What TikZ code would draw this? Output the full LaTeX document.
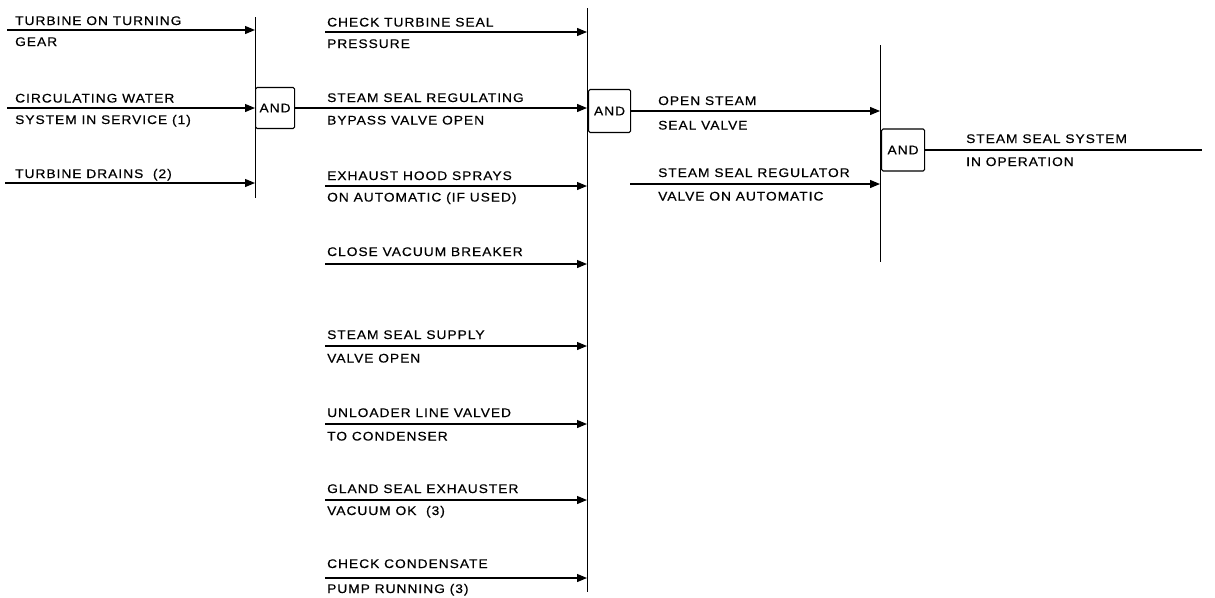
\documentclass[tikz,border=0pt]{standalone}
\usepackage{fontspec}
\setmainfont{Liberation Sans}[LetterSpace=8,FakeStretch=1.1,FakeBold=0.5]
\usetikzlibrary{arrows.meta}
\begin{document}
\begin{tikzpicture}[x=1pt,y=-1pt,
  lbl/.style={inner sep=0pt,anchor=base west,font=\fontsize{12.5}{14}\selectfont},
  bar/.style={line width=1pt},
  feed/.style={line width=1.2pt,-{Triangle[length=10pt,width=8pt]}},
  outline/.style={line width=1.2pt},
  gate/.style={draw,line width=1.1pt,rounded corners=1.5pt,inner sep=0pt,font=\fontsize{12.5}{14}\selectfont}]
\useasboundingbox (0,0) rectangle (1215,597);

% ---- vertical bus bars ----
\coordinate (b1t) at (255,17);  \coordinate (b1b) at (255,198);
\coordinate (b2t) at (587,8);   \coordinate (b2b) at (587,592);
\coordinate (b3t) at (880,45);  \coordinate (b3b) at (880,262);
\draw[bar] (b1t) -- (b1b);
\draw[bar] (b2t) -- (b2b);
\draw[bar] (b3t) -- (b3b);

% ---- AND gates ----
\node[gate,anchor=west,minimum width=39pt,minimum height=41pt] (g1) at (255,108) {AND};
\node[gate,anchor=west,minimum width=42pt,minimum height=43pt] (g2) at (588,111) {AND};
\node[gate,anchor=west,minimum width=43pt,minimum height=42pt] (g3) at (881,150) {AND};

% ---- inputs of the first gate ----
\coordinate (a1) at (7,30);
\coordinate (a2) at (7,108);
\coordinate (a3) at (5,183);
\draw[feed] (a1) -- (a1 -| b1t);
\draw[feed] (a2) -- (a2 -| b1t);
\draw[feed] (a3) -- (a3 -| b1t);
\node[lbl] (ta1) at (15,25) {TURBINE ON TURNING};
\node[lbl] (ua1) at (15,46) {GEAR};
\node[lbl] (ta2) at (15,102.5) {CIRCULATING WATER};
\node[lbl] (ua2) at (15,124) {SYSTEM IN SERVICE (1)};
\node[lbl] (ta3) at (15,178) {TURBINE DRAINS\ \ (2)};

% ---- inputs of the second gate ----
\coordinate (c1) at (325,32);
\coordinate (c3) at (325,186);
\coordinate (c4) at (325,264);
\coordinate (c5) at (325,346);
\coordinate (c6) at (325,424);
\coordinate (c7) at (325,500);
\coordinate (c8) at (325,578);
\draw[feed] (c1) -- (c1 -| b2t);
\draw[feed] (g1.east) -- (g1.east -| b2t);
\draw[feed] (c3) -- (c3 -| b2t);
\draw[feed] (c4) -- (c4 -| b2t);
\draw[feed] (c5) -- (c5 -| b2t);
\draw[feed] (c6) -- (c6 -| b2t);
\draw[feed] (c7) -- (c7 -| b2t);
\draw[feed] (c8) -- (c8 -| b2t);
\node[lbl] (tc1) at (327,26.5) {CHECK TURBINE SEAL};
\node[lbl] (uc1) at (327,48) {PRESSURE};
\node[lbl] (tc2) at (327,102) {STEAM SEAL REGULATING};
\node[lbl] (uc2) at (327,124.5) {BYPASS VALVE OPEN};
\node[lbl] (tc3) at (327,180) {EXHAUST HOOD SPRAYS};
\node[lbl] (uc3) at (327,201.5) {ON AUTOMATIC (IF USED)};
\node[lbl] (tc4) at (327,256) {CLOSE VACUUM BREAKER};
\node[lbl] (tc5) at (327,339) {STEAM SEAL SUPPLY};
\node[lbl] (uc5) at (327,362.5) {VALVE OPEN};
\node[lbl] (tc6) at (327,417) {UNLOADER LINE VALVED};
\node[lbl] (uc6) at (327,440.5) {TO CONDENSER};
\node[lbl] (tc7) at (327,493) {GLAND SEAL EXHAUSTER};
\node[lbl] (uc7) at (327,515) {VACUUM OK\ \ (3)};
\node[lbl] (tc8) at (327,568) {CHECK CONDENSATE};
\node[lbl] (uc8) at (327,593) {PUMP RUNNING (3)};

% ---- inputs of the third gate ----
\coordinate (e2) at (630,184);
\draw[feed] (g2.east) -- (g2.east -| b3t);
\draw[feed] (e2) -- (e2 -| b3t);
\node[lbl] (te1) at (658,105) {OPEN STEAM};
\node[lbl] (ue1) at (658,129.5) {SEAL VALVE};
\node[lbl] (te2) at (658,177) {STEAM SEAL REGULATOR};
\node[lbl] (ue2) at (658,200.5) {VALVE ON AUTOMATIC};

% ---- final output ----
\coordinate (out) at (1202,150);
\draw[outline] (g3.east) -- (out);
\node[lbl] (tf) at (966,143) {STEAM SEAL SYSTEM};
\node[lbl] (uf) at (966,166) {IN OPERATION};
\end{tikzpicture}
\end{document}
